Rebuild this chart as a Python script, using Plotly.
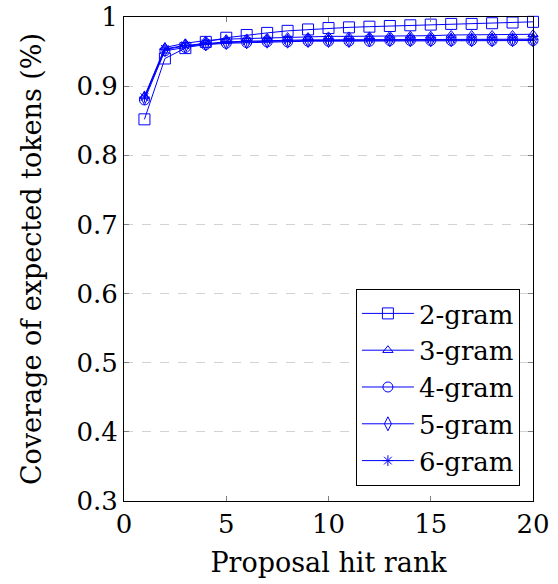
import plotly.graph_objects as go

ranks = list(range(1, 21))
gram2 = [0.852, 0.940, 0.955, 0.964, 0.970, 0.974, 0.977, 0.980, 0.982, 0.984, 0.985, 0.986, 0.987, 0.988, 0.989, 0.990, 0.990, 0.991, 0.992, 0.993]
gram3 = [0.885, 0.956, 0.962, 0.966, 0.968, 0.969, 0.970, 0.971, 0.971, 0.972, 0.972, 0.972, 0.973, 0.973, 0.973, 0.974, 0.974, 0.974, 0.974, 0.975]
gram4 = [0.880, 0.951, 0.956, 0.960, 0.962, 0.963, 0.964, 0.964, 0.965, 0.965, 0.965, 0.965, 0.966, 0.966, 0.966, 0.966, 0.966, 0.966, 0.966, 0.966]
gram5 = [0.883, 0.953, 0.958, 0.961, 0.963, 0.964, 0.965, 0.965, 0.966, 0.966, 0.966, 0.967, 0.967, 0.967, 0.967, 0.967, 0.967, 0.967, 0.967, 0.967]
gram6 = [0.884, 0.954, 0.959, 0.962, 0.964, 0.965, 0.966, 0.966, 0.967, 0.967, 0.967, 0.968, 0.968, 0.968, 0.968, 0.968, 0.968, 0.968, 0.968, 0.968]

series = [
    ("2-gram", gram2, "square-open", 11),
    ("3-gram", gram3, "triangle-up-open", 9),
    ("4-gram", gram4, "circle-open", 10),
    ("5-gram", gram5, "diamond-tall-open", 10),
    ("6-gram", gram6, "asterisk-open", 9),
]

blue = "rgb(0,0,255)"
font = "DejaVu Serif, Liberation Serif, serif"
tick_fs = 26
title_fs = 27

fig = go.Figure()
for name, vals, sym, sz in series:
    fig.add_trace(go.Scatter(
        x=ranks, y=vals, name=name, mode="lines+markers",
        line=dict(color=blue, width=1),
        marker=dict(symbol=sym, size=sz, color=blue, line=dict(color=blue, width=1)),
        cliponaxis=False,
    ))

fig.update_layout(
    width=558, height=584,
    margin=dict(l=124, r=25, t=17, b=83),
    paper_bgcolor="white", plot_bgcolor="white",
    font=dict(family=font, size=tick_fs, color="black"),
    showlegend=True,
    legend=dict(
        x=0.968, y=0.031, xanchor="right", yanchor="bottom",
        bgcolor="white", bordercolor="black", borderwidth=1,
        font=dict(size=26, family=font), tracegroupgap=0, itemwidth=52,
    ),
    xaxis=dict(
        range=[0, 20], tickvals=[0, 5, 10, 15, 20],
        showline=True, linecolor="black", linewidth=1, mirror="ticks",
        ticks="inside", ticklen=5, tickcolor="gray",
        showgrid=False, zeroline=False, automargin=False,
        title=dict(text="Proposal hit rank", font=dict(size=title_fs, family=font), standoff=14),
        tickfont=dict(size=tick_fs, family=font),
    ),
    yaxis=dict(
        range=[0.3, 1.0], tickvals=[0.3, 0.4, 0.5, 0.6, 0.7, 0.8, 0.9, 1.0],
        ticktext=["0.3", "0.4", "0.5", "0.6", "0.7", "0.8", "0.9", "1"],
        showline=True, linecolor="black", linewidth=1, mirror="ticks",
        ticks="inside", ticklen=5, tickcolor="gray",
        showgrid=True, gridcolor="lightgray", griddash="dash", gridwidth=1,
        zeroline=False, automargin=False,
        title=dict(text="Coverage of expected tokens (%)", font=dict(size=title_fs, family=font), standoff=26),
        tickfont=dict(size=tick_fs, family=font),
    ),
)

fig.write_html("out.html")
